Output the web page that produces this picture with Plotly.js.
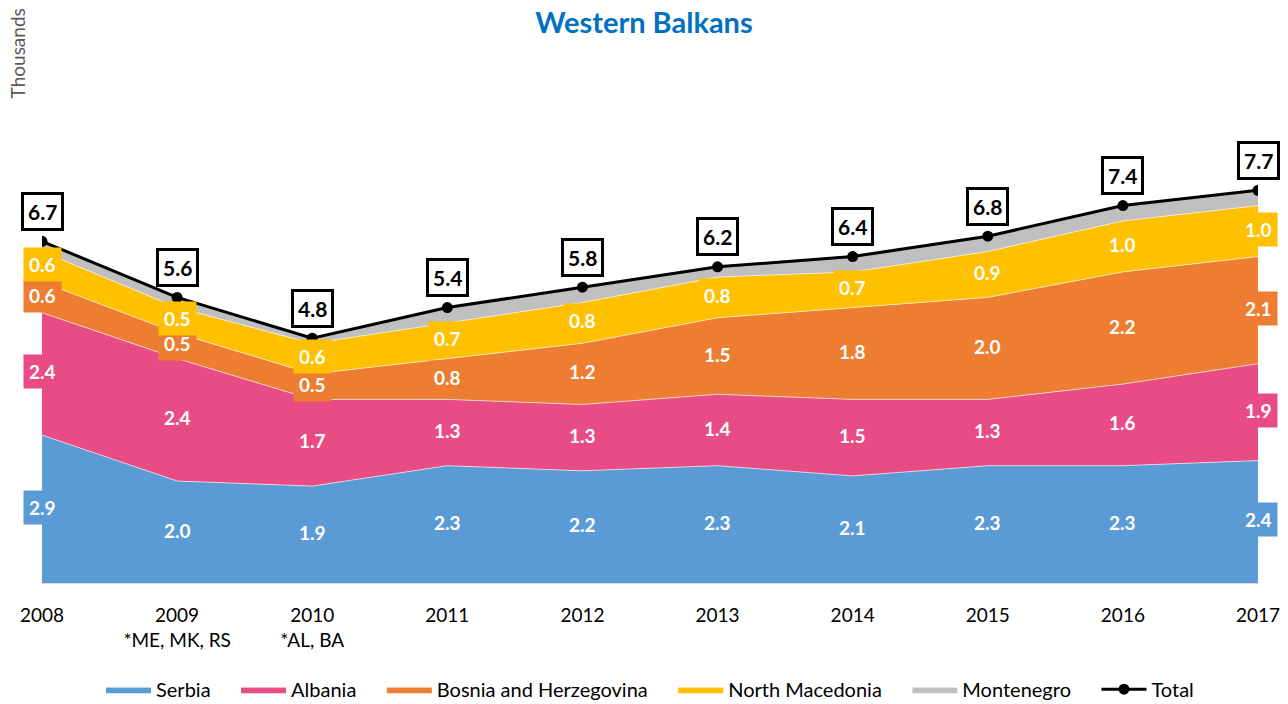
<!DOCTYPE html>
<html>
<head>
<meta charset="utf-8">
<script src="https://cdn.plot.ly/plotly-3.0.1.min.js"></script>
<style>html,body{margin:0;padding:0;background:#fff;}#chart{width:1288px;height:704px;}</style>
</head>
<body>
<div id="chart"></div>
<script>
const years = [2008, 2009, 2010, 2011, 2012, 2013, 2014, 2015, 2016, 2017];
const tickLabels = ['2008', '2009<br>*ME, MK, RS', '2010<br>*AL, BA', '2011', '2012', '2013', '2014', '2015', '2016', '2017'];
const serbia = [2.9, 2.0, 1.9, 2.3, 2.2, 2.3, 2.1, 2.3, 2.3, 2.4];
const albania = [2.4, 2.4, 1.7, 1.3, 1.3, 1.4, 1.5, 1.3, 1.6, 1.9];
const bosnia = [0.6, 0.5, 0.5, 0.8, 1.2, 1.5, 1.8, 2.0, 2.2, 2.1];
const northMacedonia = [0.6, 0.5, 0.6, 0.7, 0.8, 0.8, 0.7, 0.9, 1.0, 1.0];
const montenegro = [0.2, 0.2, 0.1, 0.3, 0.3, 0.2, 0.3, 0.3, 0.3, 0.3];
const total = [6.7, 5.6, 4.8, 5.4, 5.8, 6.2, 6.4, 6.8, 7.4, 7.7];

const FONT = 'Lato, "Open Sans", sans-serif';
const PAD = '\u00A0\u00A0\u00A0\u00A0';
const series = [
  {name: 'Serbia', data: serbia, color: '#5B9BD5', label: true},
  {name: 'Albania', data: albania, color: '#E84C84', label: true},
  {name: 'Bosnia and Herzegovina', data: bosnia, color: '#ED7D31', label: true},
  {name: 'North Macedonia', data: northMacedonia, color: '#FFC000', label: true},
  {name: 'Montenegro', data: montenegro, color: '#BFBFBF', label: false}
];

const traces = series.map(s => ({
  type: 'scatter', mode: 'lines', name: s.name + PAD, x: years, y: s.data,
  stackgroup: 'one', fillcolor: s.color,
  line: {color: 'rgba(255,255,255,0.6)', width: 1},
  hoverinfo: 'skip'
}));
traces.push({
  type: 'scatter', mode: 'lines+markers', name: 'Total', x: years, y: total,
  line: {color: '#000', width: 3}, marker: {color: '#000', size: 11},
  hoverinfo: 'skip'
});

const annotations = [];
const cum = years.map(() => 0);
series.forEach(s => {
  s.data.forEach((v, i) => {
    const mid = cum[i] + v / 2;
    cum[i] += v;
    if (!s.label) return;
    annotations.push({
      x: years[i], y: mid, xref: 'x', yref: 'y', showarrow: false, yshift: 2,
      text: '<b>' + v.toFixed(1) + '</b>',
      font: {family: FONT, size: 19, color: '#fff'},
      bgcolor: s.color, borderpad: 5
    });
  });
});
total.forEach((v, i) => {
  annotations.push({
    x: years[i], y: v, xref: 'x', yref: 'y', showarrow: false, yshift: 30,
    text: '<b>' + v.toFixed(1) + '</b>',
    font: {family: FONT, size: 21, color: '#000'},
    bgcolor: '#fff', bordercolor: '#000', borderwidth: 3, borderpad: 4
  });
});
annotations.push({
  text: 'Thousands', xref: 'paper', yref: 'paper', x: -0.02, y: 1.13,
  xanchor: 'center', yanchor: 'top', textangle: -90, showarrow: false,
  font: {family: FONT, size: 19, color: '#595959'}
});

const layout = {
  width: 1288, height: 704,
  margin: {l: 42, r: 30, t: 73, b: 121, autoexpand: false},
  paper_bgcolor: '#fff', plot_bgcolor: '#fff',
  title: {text: '<b>Western Balkans</b>', x: 0.5, xanchor: 'center', y: 0.967, yanchor: 'middle', yref: 'container',
          font: {family: FONT, size: 29, color: '#0070C0'}},
  xaxis: {range: [2008, 2017], tickvals: years, ticktext: tickLabels, showgrid: false, zeroline: false,
          automargin: false,
          ticks: 'outside', ticklen: 15, tickcolor: 'rgba(0,0,0,0)',
          showline: true, linecolor: '#D9D9D9', linewidth: 1,
          tickfont: {family: FONT, size: 19, color: '#000'}},
  yaxis: {range: [0, 10], visible: false, fixedrange: true},
  showlegend: true,
  legend: {orientation: 'h', x: 0.5, xanchor: 'center', y: 0.021, yanchor: 'middle', yref: 'container', traceorder: 'normal',
           itemwidth: 45,
           font: {family: FONT, size: 20, color: '#000'}},
  annotations: annotations,
  hovermode: false
};

Plotly.newPlot('chart', traces, layout, {staticPlot: true, displayModeBar: false});
</script>
</body>
</html>
